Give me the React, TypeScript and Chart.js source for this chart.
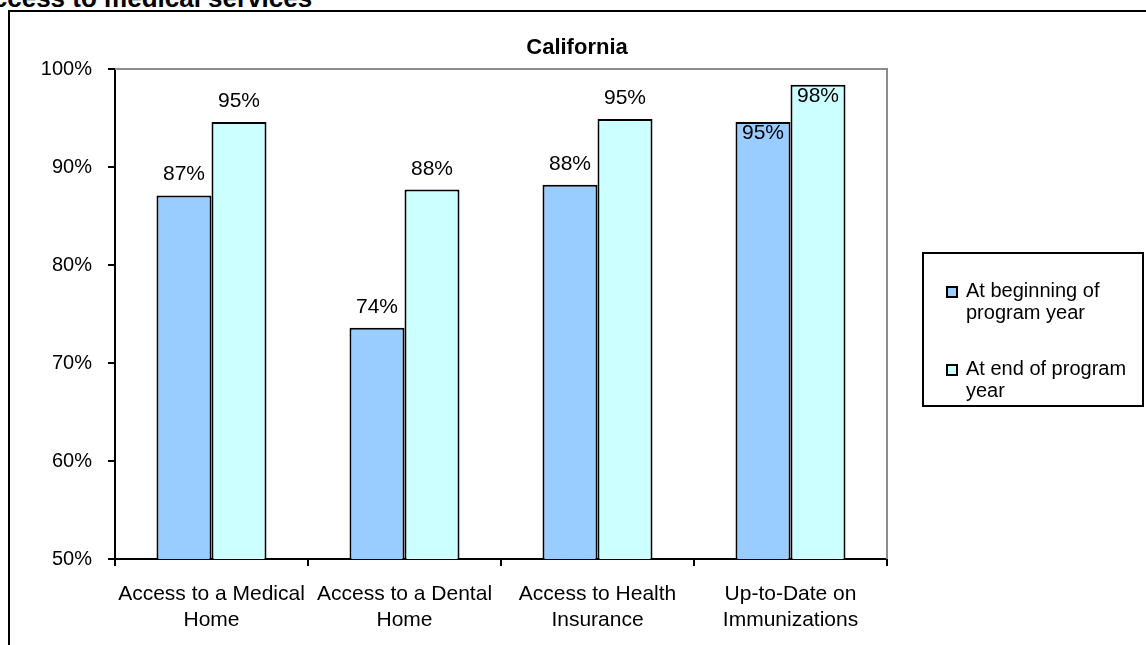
import React, { useEffect, useRef } from "react";
import { Chart, registerables } from "chart.js";

Chart.register(...registerables);

// ---- data ----
const categories: string[][] = [
  ["Access to a Medical", "Home"],
  ["Access to a Dental", "Home"],
  ["Access to Health", "Insurance"],
  ["Up-to-Date on", "Immunizations"],
];
const seriesNames = ["At beginning of program year", "At end of program year"];
const legendLines: string[][] = [
  ["At beginning of", "program year"],
  ["At end of program", "year"],
];
const beginValues = [87.1, 73.6, 88.2, 94.6];
const endValues = [94.6, 87.7, 94.9, 98.4];
const yTicks = [50, 60, 70, 80, 90, 100];
const chartTitle = "California";
const pageHeading = "Access to medical services";

const FONT = '"Liberation Sans", Arial, Helvetica, sans-serif';

const plotFramePlugin = {
  id: "plotFrame",
  beforeDatasetsDraw(chart: any) {
    const { ctx, chartArea } = chart;
    ctx.save();
    ctx.strokeStyle = "#8c8c8c";
    ctx.lineWidth = 2;
    ctx.beginPath();
    ctx.moveTo(chartArea.left, chartArea.top);
    ctx.lineTo(chartArea.right, chartArea.top);
    ctx.lineTo(chartArea.right, chartArea.bottom);
    ctx.stroke();
    ctx.restore();
  },
};

const dataLabelPlugin = {
  id: "dataLabels",
  afterDatasetsDraw(chart: any) {
    const { ctx, chartArea } = chart;
    const n = chart.data.labels.length;
    const metas = chart.data.datasets.map((_: any, i: number) => chart.getDatasetMeta(i));
    ctx.save();
    ctx.font = `21px ${FONT}`;
    ctx.fillStyle = "#000";
    ctx.textAlign = "center";
    ctx.textBaseline = "alphabetic";
    for (let i = 0; i < n; i++) {
      const inside = metas.some((m: any) => m.data[i].y - 15 - 17 < chartArea.top);
      metas.forEach((m: any, di: number) => {
        const el = m.data[i];
        const v = chart.data.datasets[di].data[i];
        const txt = Math.round(v) + "%";
        const y = inside ? el.y + 17 : el.y - 15;
        ctx.fillText(txt, el.x, y);
      });
    }
    ctx.restore();
  },
};

const titleLegendPlugin = {
  id: "titleLegend",
  afterDraw(chart: any) {
    const { ctx } = chart;
    ctx.save();
    // title
    ctx.font = `bold 22px ${FONT}`;
    ctx.fillStyle = "#000";
    ctx.textAlign = "center";
    ctx.textBaseline = "middle";
    ctx.fillText(chartTitle, 577, 48);
    // legend box
    ctx.strokeStyle = "#000";
    ctx.lineWidth = 2;
    ctx.strokeRect(923, 253, 220, 153);
    ctx.font = `20px ${FONT}`;
    ctx.textAlign = "left";
    ctx.textBaseline = "alphabetic";
    const baselines = [297, 375];
    chart.data.datasets.forEach((ds: any, i: number) => {
      const b = baselines[i];
      ctx.fillStyle = ds.backgroundColor;
      ctx.fillRect(947, b - 10, 10, 10);
      ctx.lineWidth = 2;
      ctx.strokeStyle = "#000";
      ctx.strokeRect(947, b - 10, 10, 10);
      ctx.fillStyle = "#000";
      legendLines[i].forEach((line, li) => {
        ctx.fillText(line, 966, b + li * 22);
      });
    });
    ctx.restore();
  },
};

export default function App() {
  const canvasRef = useRef<HTMLCanvasElement | null>(null);

  useEffect(() => {
    if (!canvasRef.current) return;
    const chart = new Chart(canvasRef.current, {
      type: "bar",
      data: {
        labels: categories,
        datasets: [
          {
            label: seriesNames[0],
            data: beginValues,
            backgroundColor: "#99ccff",
            borderColor: "#000",
            borderWidth: 2,
          },
          {
            label: seriesNames[1],
            data: endValues,
            backgroundColor: "#ccffff",
            borderColor: "#000",
            borderWidth: 2,
          },
        ],
      },
      options: {
        responsive: false,
        animation: false,
        devicePixelRatio: 1,
        layout: { padding: { left: 0, right: 259, top: 69, bottom: 0 } },
        plugins: {
          legend: { display: false },
          tooltip: { enabled: false },
          title: { display: false },
        },
        datasets: {
          bar: { categoryPercentage: 0.57, barPercentage: 1.0 },
        },
        scales: {
          x: {
            offset: true,
            grid: {
              offset: true,
              drawOnChartArea: false,
              drawTicks: true,
              tickLength: 7,
              color: "#000",
              lineWidth: 2,
            },
            border: { display: true, color: "#000", width: 2 },
            ticks: {
              font: { family: FONT, size: 21 },
              color: "#000",
              padding: 16,
              maxRotation: 0,
              autoSkip: false,
            },
            afterFit(scale: any) {
              scale.height = 86;
            },
          },
          y: {
            min: 50,
            max: 100,
            grid: {
              drawOnChartArea: false,
              drawTicks: true,
              tickLength: 7,
              color: "#000",
              lineWidth: 2,
            },
            border: { display: true, color: "#000", width: 2 },
            ticks: {
              font: { family: FONT, size: 20 },
              color: "#000",
              padding: 16,
              callback: (v: any) => v + "%",
            },
            afterBuildTicks(scale: any) {
              scale.ticks = yTicks.map((v) => ({ value: v }));
            },
            afterFit(scale: any) {
              scale.width = 115;
            },
          },
        },
      },
      plugins: [plotFramePlugin, dataLabelPlugin, titleLegendPlugin],
    } as any);
    return () => chart.destroy();
  }, []);

  return (
    <div
      style={{
        position: "fixed",
        left: 0,
        top: 0,
        width: 1146,
        height: 645,
        overflow: "hidden",
        background: "#fff",
      }}
    >
      <div
        style={{
          position: "absolute",
          left: -26,
          top: -15,
          font: `bold 26px ${FONT}`,
          lineHeight: "26px",
          whiteSpace: "nowrap",
          color: "#000",
        }}
      >
        {pageHeading}
      </div>
      <div
        style={{
          position: "absolute",
          left: 8,
          top: 10,
          width: 1300,
          height: 800,
          border: "2px solid #000",
        }}
      />
      <canvas
        ref={canvasRef}
        width={1146}
        height={645}
        style={{ position: "absolute", left: 0, top: 0, width: 1146, height: 645 }}
      />
    </div>
  );
}
